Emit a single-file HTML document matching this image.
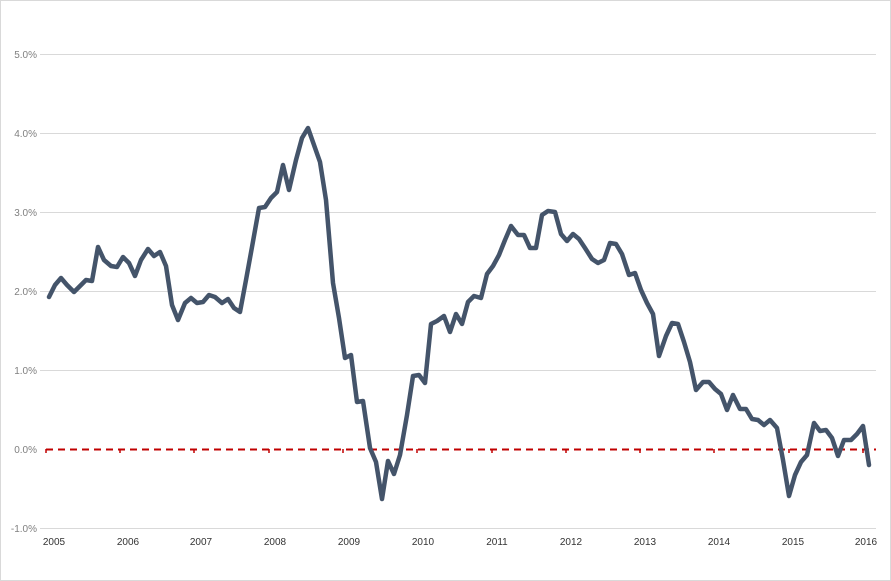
<!DOCTYPE html>
<html><head><meta charset="utf-8"><style>
html,body{margin:0;padding:0;background:#fff}
svg{display:block}
text{font-family:"Liberation Sans",sans-serif}
</style></head><body>
<svg width="891" height="581" viewBox="0 0 891 581" xmlns="http://www.w3.org/2000/svg">
<rect x="0.5" y="0.5" width="890" height="580" fill="#fff" stroke="#d9d9d9"/>
<g stroke="#d9d9d9" stroke-width="1">
<line x1="40" y1="54.5" x2="876" y2="54.5"/>
<line x1="40" y1="133.5" x2="876" y2="133.5"/>
<line x1="40" y1="212.5" x2="876" y2="212.5"/>
<line x1="40" y1="291.5" x2="876" y2="291.5"/>
<line x1="40" y1="370.5" x2="876" y2="370.5"/>
<line x1="40" y1="528.5" x2="876" y2="528.5"/>
</g>
<g font-size="10" fill="#7f7f7f" text-anchor="end">
<text x="37" y="58">5.0%</text>
<text x="37" y="137">4.0%</text>
<text x="37" y="216">3.0%</text>
<text x="37" y="295">2.0%</text>
<text x="37" y="374">1.0%</text>
<text x="37" y="453">0.0%</text>
<text x="37" y="532">-1.0%</text>
</g>
<g font-size="10" fill="#333" text-anchor="middle">
<text x="54" y="545">2005</text><text x="128" y="545">2006</text><text x="201" y="545">2007</text>
<text x="275" y="545">2008</text><text x="349" y="545">2009</text><text x="423" y="545">2010</text>
<text x="497" y="545">2011</text><text x="571" y="545">2012</text><text x="645" y="545">2013</text>
<text x="719" y="545">2014</text><text x="793" y="545">2015</text><text x="866" y="545">2016</text>
</g>
<line x1="46" y1="449.5" x2="876" y2="449.5" stroke="#c00000" stroke-width="2" stroke-dasharray="7,5"/>
<g stroke="#c00000" stroke-width="1.5">
<line x1="46" y1="449" x2="46" y2="453"/><line x1="120" y1="449" x2="120" y2="453"/><line x1="194" y1="449" x2="194" y2="453"/>
<line x1="269" y1="449" x2="269" y2="453"/><line x1="343" y1="449" x2="343" y2="453"/><line x1="417" y1="449" x2="417" y2="453"/>
<line x1="492" y1="449" x2="492" y2="453"/><line x1="566" y1="449" x2="566" y2="453"/><line x1="640" y1="449" x2="640" y2="453"/>
<line x1="714" y1="449" x2="714" y2="453"/><line x1="789" y1="449" x2="789" y2="453"/><line x1="863" y1="449" x2="863" y2="453"/>
</g>
<polyline fill="none" stroke="#44546a" stroke-width="4.5" stroke-linejoin="round" stroke-linecap="round" points="
49,297 55,285 61,278 67,285 74,292 80,286 86,280 92,281 98,247 104,260 111,266 117,267
123,257 129,263 135,276 141,260 148,249 154,256 160,252 166,266 172,305 178,320 185,303 191,298
197,303 203,302 209,295 215,297 222,303 228,299 234,308 240,312 246,280 252,247 259,208 265,207
271,198 277,192 283,165 289,190 296,160 302,138 308,128 314,145 320,162 326,200 333,283 339,318
345,358 351,355 357,402 363,401 370,448 376,462 382,499 388,461 394,474 400,455 407,415 413,376
419,375 425,383 431,324 437,321 444,316 450,332 456,314 462,324 468,302 474,296 481,298 487,274
493,266 499,255 505,240 511,226 518,235 524,235 530,248 536,248 542,215 548,211 555,212 561,234
567,241 573,234 579,239 585,248 592,259 598,263 604,260 610,243 616,244 622,254 629,275 635,273
641,290 647,303 653,314 659,356 666,336 672,323 678,324 684,342 690,362 696,390 703,382 709,382
715,389 721,394 727,410 733,395 740,409 746,409 752,419 758,420 764,425 770,420 777,428 783,460
789,496 795,475 801,462 807,455 814,423 820,431 826,430 832,438 838,456 844,440 851,440 857,434
863,426 869,465"/>
</svg>
</body></html>
